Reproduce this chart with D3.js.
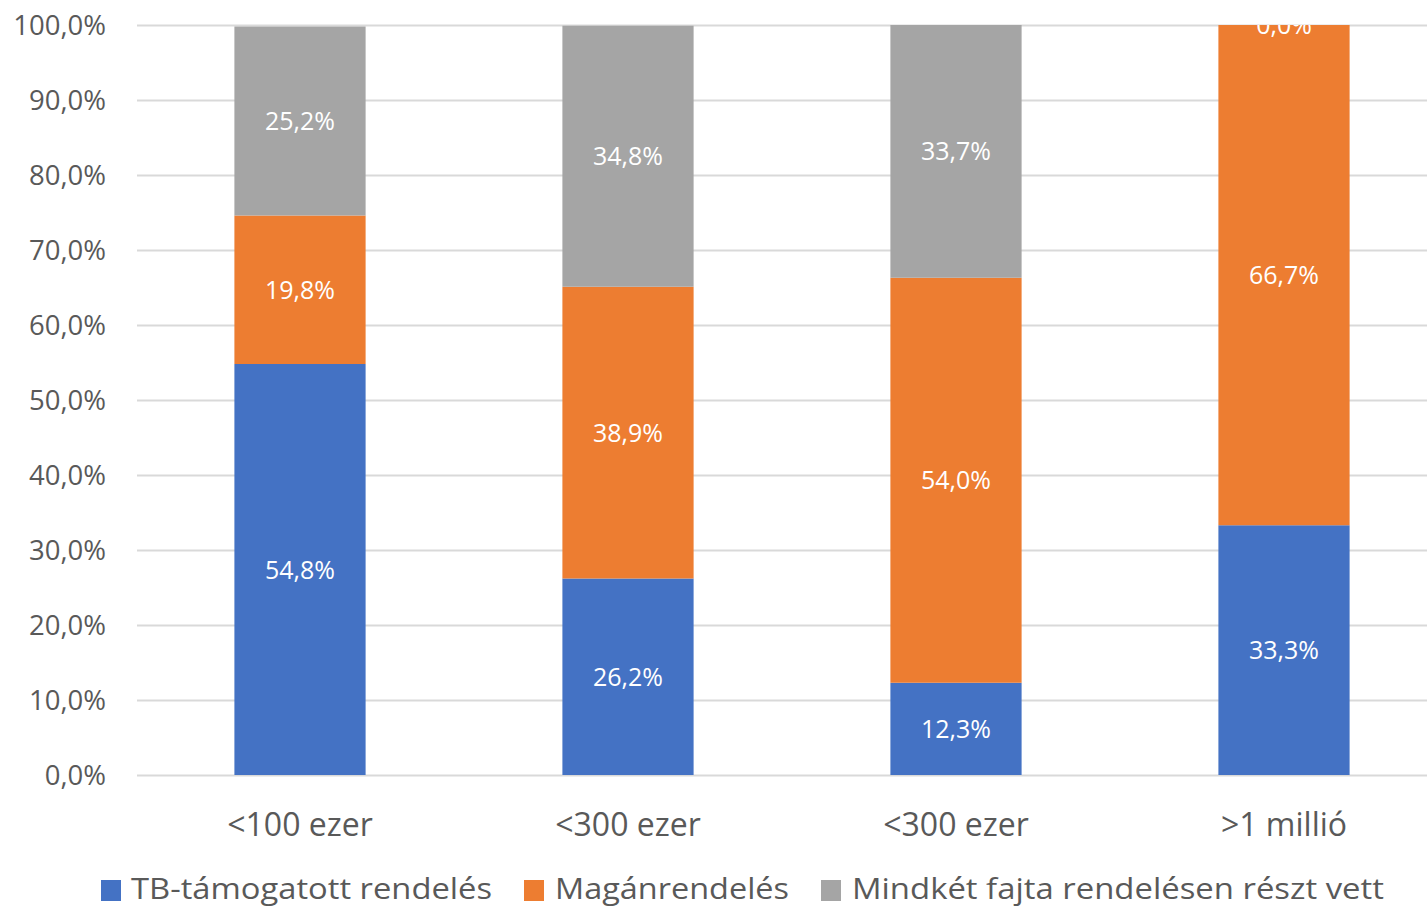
<!DOCTYPE html>
<html>
<head>
<meta charset="utf-8">
<script src="https://cdn.jsdelivr.net/npm/d3@7"></script>
<style>
  html, body { margin: 0; padding: 0; background: #fff; }
  svg { display: block; }
</style>
</head>
<body>
<svg id="chart" width="1427" height="909"></svg>
<script>
// Income groups and the share of each appointment type (percent)
const categories = ["<100 ezer", "<300 ezer", "<300 ezer ", ">1 millió"];
const categoryLabels = ["<100 ezer", "<300 ezer", "<300 ezer", ">1 millió"];
const seriesNames = ["TB-támogatott rendelés", "Magánrendelés", "Mindkét fajta rendelésen részt vett"];
const tbValues = [54.8, 26.2, 12.3, 33.3];
const privateValues = [19.8, 38.9, 54.0, 66.7];
const bothValues = [25.2, 34.8, 33.7, 0.0];
const yTicks = [0, 10, 20, 30, 40, 50, 60, 70, 80, 90, 100];
const colors = ["#4472C4", "#ED7D31", "#A5A5A5"];

const svg = d3.select("#chart");
const fmt = v => v.toFixed(1).replace(".", ",") + "%";

const plot = { left: 136, right: 1448, top: 25, bottom: 775 };

const x = d3.scaleBand().domain(categories).range([plot.left, plot.right]).paddingInner(0).paddingOuter(0);
const y = d3.scaleLinear().domain([0, 100]).range([plot.bottom, plot.top]);

const rows = categories.map((c, i) => ({ cat: c, tb: tbValues[i], priv: privateValues[i], both: bothValues[i] }));
const stack = d3.stack().keys(["tb", "priv", "both"]);
const layers = stack(rows);

svg.append("defs").append("clipPath").attr("id", "plotClip")
  .append("rect").attr("x", 0).attr("y", plot.top).attr("width", 1427).attr("height", plot.bottom - plot.top + 2);

// gridlines
svg.append("g").selectAll("line").data(yTicks).join("line")
  .attr("x1", plot.left + 1).attr("x2", plot.right)
  .attr("y1", d => Math.round(y(d)) + 0.5).attr("y2", d => Math.round(y(d)) + 0.5)
  .attr("stroke", "#d9d9d9").attr("stroke-width", 2);

// y-axis tick labels
svg.append("g").selectAll("text").data(yTicks).join("text")
  .attr("x", 106).attr("y", d => y(d))
  .attr("dy", "0.36em")
  .attr("text-anchor", "end")
  .attr("font-family", "'Open Sans', sans-serif")
  .attr("font-size", 27.5)
  .attr("fill", "#595959")
  .text(d => d.toFixed(1).replace(".", ",") + "%");

const barW = x.bandwidth() * 0.4;
const barX = d => x(d.data.cat) + (x.bandwidth() - barW) / 2;

// stacked bars
const gLayers = svg.append("g").selectAll("g").data(layers).join("g")
  .attr("fill", (d, i) => colors[i]);
gLayers.selectAll("rect").data(d => d).join("rect")
  .attr("x", barX)
  .attr("width", barW)
  .attr("y", d => y(d[1]))
  .attr("height", d => y(d[0]) - y(d[1]));

// value labels centred in each segment
const gLabels = svg.append("g").attr("clip-path", "url(#plotClip)");
layers.forEach(layer => {
  gLabels.append("g").selectAll("text").data(layer).join("text")
    .attr("x", d => x(d.data.cat) + x.bandwidth() / 2)
    .attr("y", d => (y(d[0]) + y(d[1])) / 2)
    .attr("dy", "0.36em")
    .attr("text-anchor", "middle")
    .attr("font-family", "'Open Sans', sans-serif")
    .attr("font-size", 25)
    .attr("fill", "#ffffff")
    .text(d => fmt(d.data[layer.key]));
});

// category labels
svg.append("g").selectAll("text").data(categories).join("text")
  .attr("x", d => x(d) + x.bandwidth() / 2)
  .attr("y", 824)
  .attr("dy", "0.36em")
  .attr("text-anchor", "middle")
  .attr("font-family", "'Open Sans', sans-serif")
  .attr("font-size", 32)
  .attr("fill", "#595959")
  .text((d, i) => categoryLabels[i]);

// legend
const legendItems = [
  { name: seriesNames[0], sx: 101, tx: 131, w: 361 },
  { name: seriesNames[1], sx: 524, tx: 555, w: 234 },
  { name: seriesNames[2], sx: 821, tx: 852, w: 532 }
];
const gLegend = svg.append("g");
legendItems.forEach((it, i) => {
  gLegend.append("rect").attr("x", it.sx).attr("y", 880).attr("width", 20).attr("height", 21).attr("fill", colors[i]);
  gLegend.append("text")
    .attr("x", it.tx).attr("y", 888)
    .attr("dy", "0.36em")
    .attr("font-family", "'Open Sans', sans-serif")
    .attr("font-size", 30)
    .attr("fill", "#595959")
    .attr("textLength", it.w)
    .attr("lengthAdjust", "spacingAndGlyphs")
    .text(it.name);
});
</script>
</body>
</html>
